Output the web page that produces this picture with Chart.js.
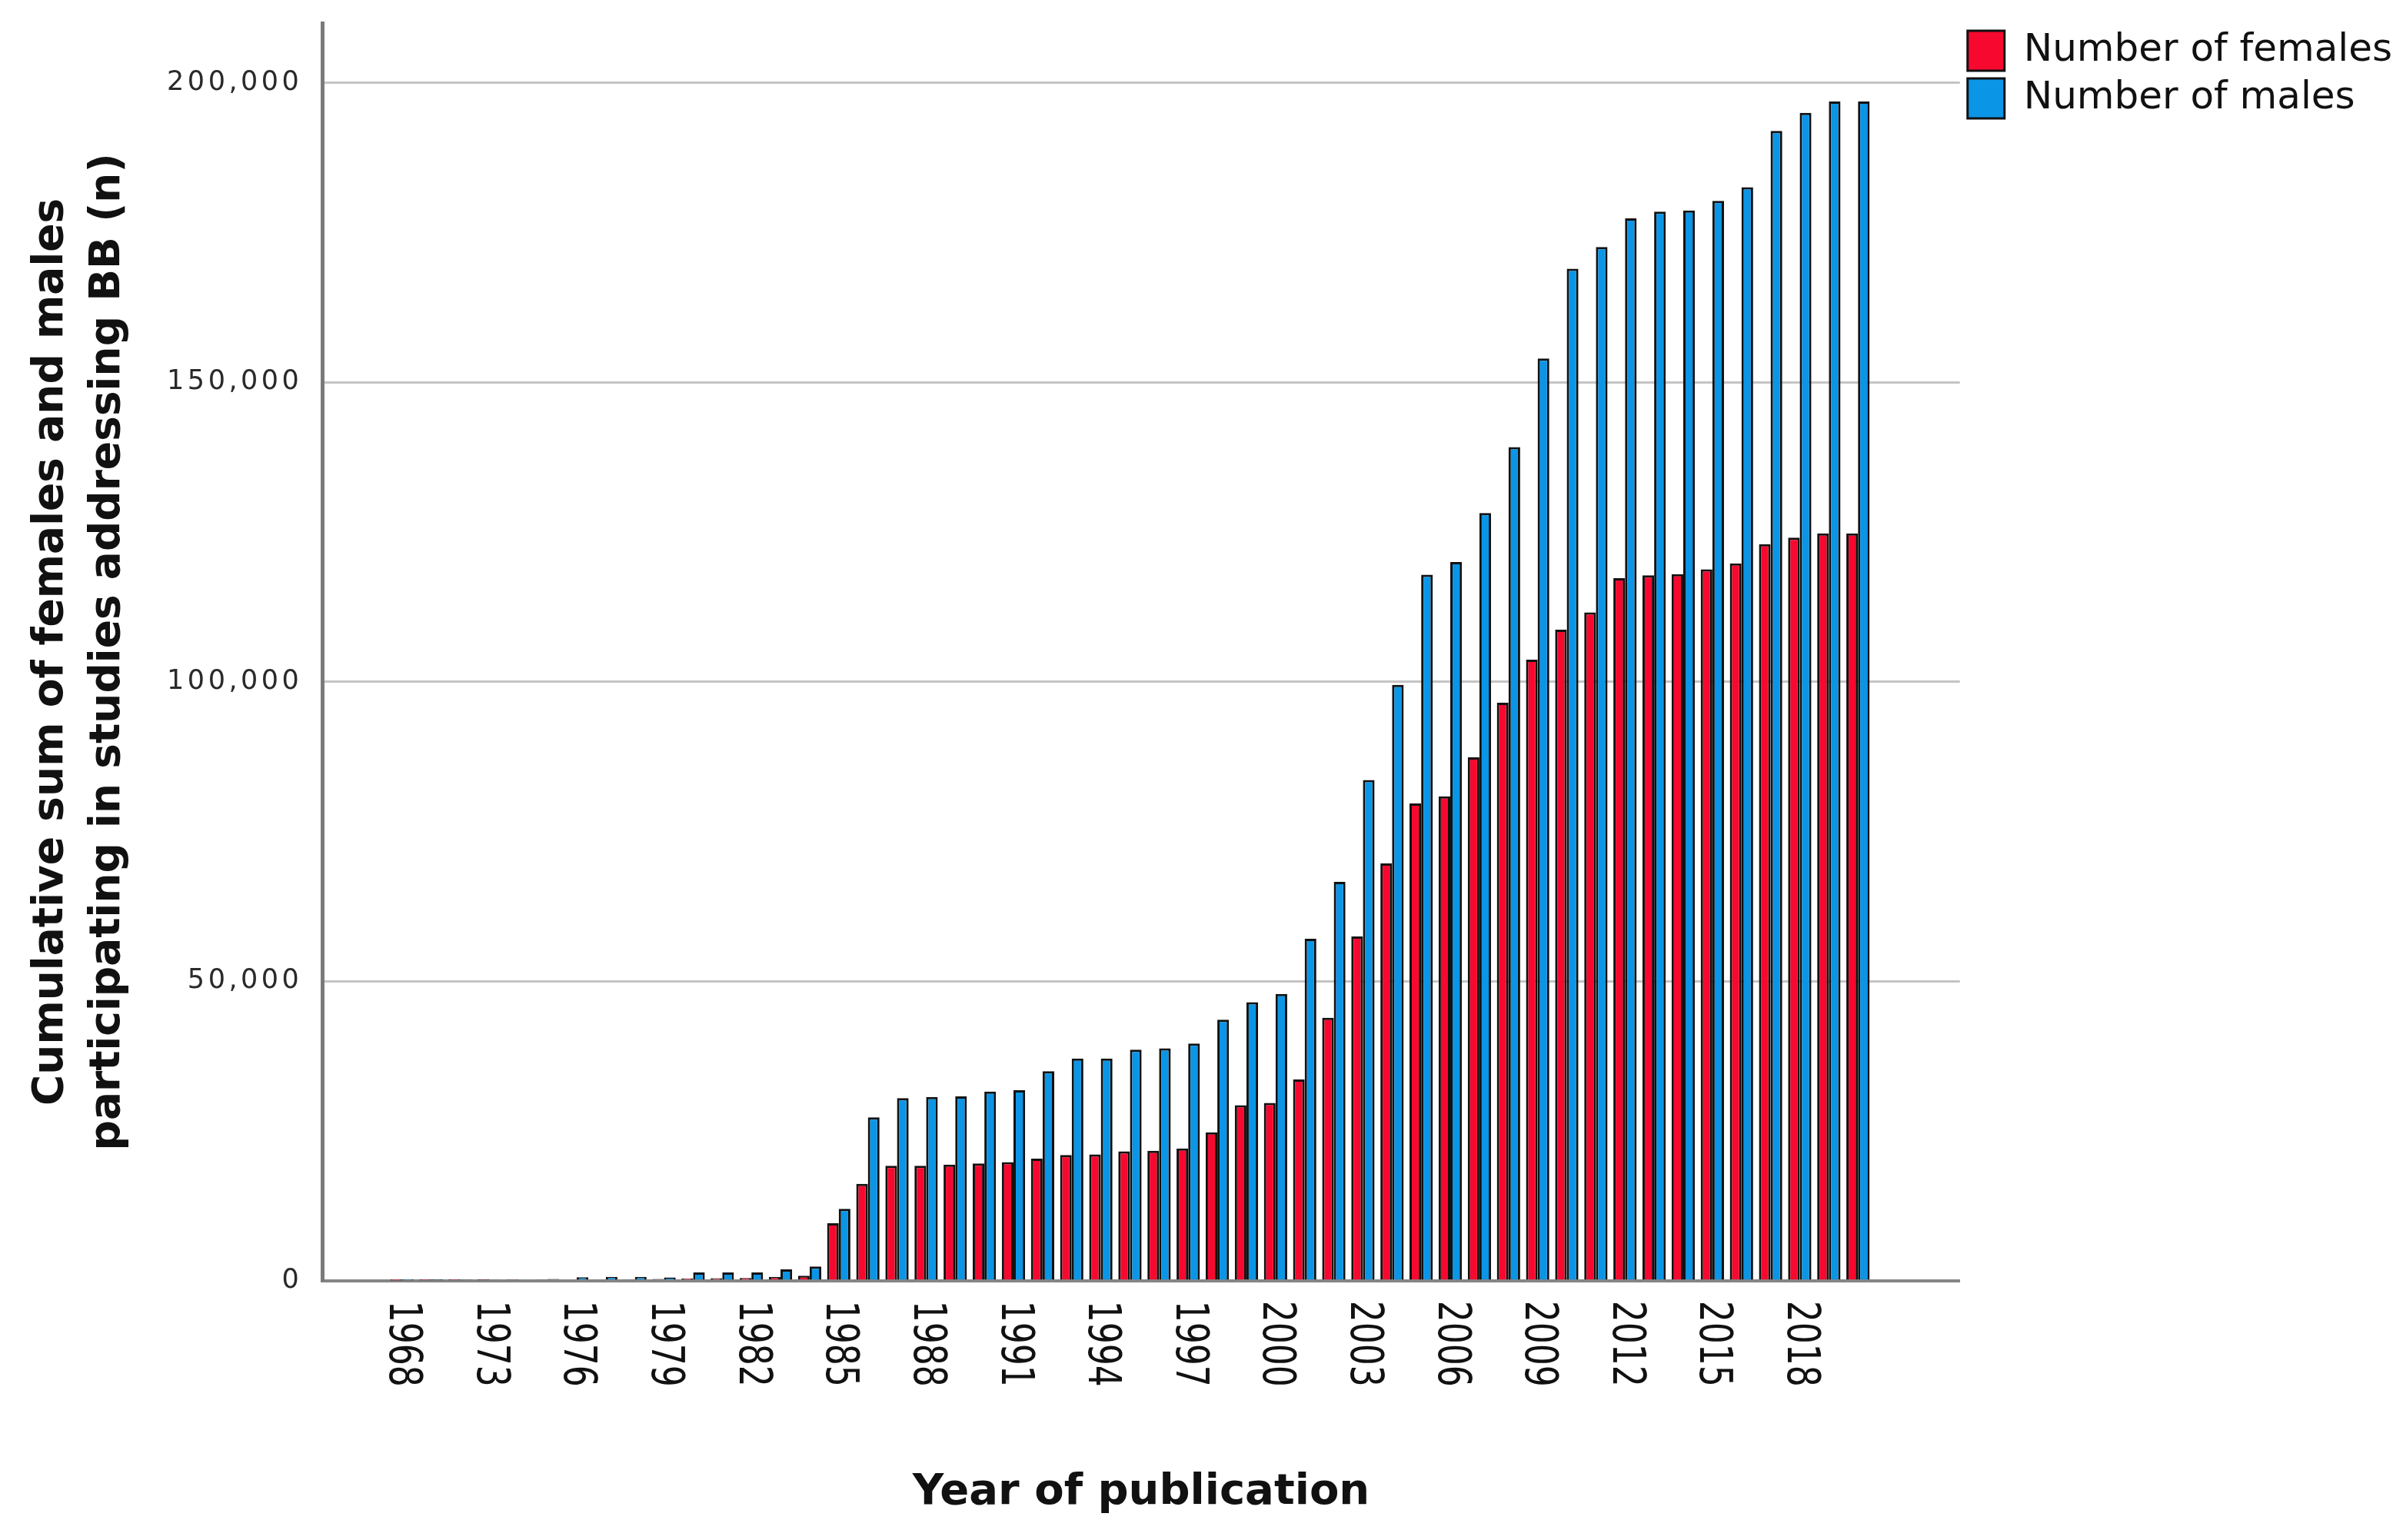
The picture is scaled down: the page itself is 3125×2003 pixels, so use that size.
<!DOCTYPE html>
<html>
<head>
<meta charset="utf-8">
<script src="https://cdn.jsdelivr.net/npm/chart.js@4.4.1/dist/chart.umd.min.js"></script>
<style>
  html,body{margin:0;padding:0;background:#fff;}
  #wrap{width:3125px;height:2003px;position:relative;}
</style>
</head>
<body>
<div id="wrap"><canvas id="chart"></canvas></div>
<script>
// categories (only every third one is labelled on the axis)
const years = ['1968','1970','1972','1973','1974','1975','1976','1977','1978','1979',
  '1980','1981','1982','1983','1984','1985','1986','1987','1988','1989',
  '1990','1991','1992','1993','1994','1995','1996','1997','1998','1999',
  '2000','2001','2002','2003','2004','2005','2006','2007','2008','2009',
  '2010','2011','2012','2013','2014','2015','2016','2017','2018','2019','2020'];

// cumulative counts
const females = [50,80,100,120,150,180,200,250,280,300,
  400,420,450,650,850,9600,16200,19200,19200,19400,
  19600,19800,20400,21000,21100,21600,21700,22100,24800,29300,
  29700,33600,43900,57500,69700,79700,80900,87400,96500,103700,
  108700,111600,117300,117800,118000,118800,119800,123000,124100,124800,124800];
const males = [80,120,150,180,200,300,600,650,650,550,
  1400,1400,1400,1900,2400,12000,27300,30500,30700,30800,
  31600,31800,35000,37100,37100,38600,38800,39600,43600,46500,
  47900,57100,66600,83600,99500,117900,120000,128200,139200,154000,
  169000,172600,177400,178500,178700,180300,182600,192000,195000,196900,196900];

const yTicks = [0,50000,100000,150000,200000];

const toPoints = arr => arr.map((v,i)=>({x:i, y:v}));

// draw the tick labels by hand: x labels read top-to-bottom, y labels are spaced out
const customLabels = {
  id:'customLabels',
  afterDraw(chart){
    const ctx = chart.ctx;
    const xs = chart.scales.x, ys = chart.scales.y;
    ctx.save();
    ctx.fillStyle = '#111';
    ctx.font = '44px "DejaVu Sans"';
    ctx.textAlign = 'left';
    ctx.textBaseline = 'middle';
    for(const t of xs.ticks){
      const px = xs.getPixelForValue(t.value);
      ctx.save();
      ctx.translate(px, xs.top + 26);
      ctx.rotate(Math.PI/2);
      ctx.scale(1, 1.35);
      ctx.fillText(years[t.value], 0, 0);
      ctx.restore();
    }
    ctx.font = '35px "DejaVu Sans"';
    ctx.fillStyle = '#2a2a2a';
    ctx.letterSpacing = '4.5px';
    ctx.textAlign = 'right';
    for(const t of ys.ticks){
      const py = ys.getPixelForValue(t.value);
      ctx.fillText(t.value.toLocaleString('en-US'), ys.right - 26, py);
    }
    ctx.restore();
  }
};

new Chart(document.getElementById('chart'), {
  type:'bar',
  data:{
    datasets:[
      {label:'Number of females', data:toPoints(females), backgroundColor:'#f7082f', borderColor:'#111', borderWidth:3,
        categoryPercentage:0.8, barPercentage:1},
      {label:'Number of males', data:toPoints(males), backgroundColor:'#0b95e6', borderColor:'#111', borderWidth:3,
        categoryPercentage:0.8, barPercentage:1}
    ]
  },
  options:{
    responsive:true, maintainAspectRatio:false, animation:false, devicePixelRatio:1,
    layout:{padding:{left:4, right:4, top:30, bottom:28}},
    plugins:{
      tooltip:{enabled:false},
      legend:{
        position:'right', align:'start',
        labels:{boxWidth:48, boxHeight:52, padding:10, color:'#111', font:{family:'DejaVu Sans', size:50}}
      }
    },
    scales:{
      x:{
        type:'linear', min:-2.73, max:53.5, offset:false,
        grid:{display:false},
        border:{display:true, color:'#858585', width:4},
        afterBuildTicks: s => { s.ticks = years.map((_,i)=>i).filter(i=>i%3===0).map(v=>({value:v})); },
        ticks:{color:'rgba(0,0,0,0)', font:{family:'DejaVu Sans', size:44}, minRotation:90, maxRotation:90, autoSkip:false, padding:26,
          callback: v => years[v] || ''},
        title:{display:true, text:'Year of publication', color:'#111', font:{family:'DejaVu Sans', size:56, weight:'bold'}, padding:{top:70, bottom:0}}
      },
      y:{
        min:0, max:210000,
        afterBuildTicks: s => { s.ticks = yTicks.map(v=>({value:v})); },
        afterFit: s => { s.paddingTop = 0; },
        grid:{color:'#c4c4c4', lineWidth:3, drawTicks:false},
        border:{display:true, color:'#7a7a7a', width:5},
        ticks:{color:'rgba(0,0,0,0)', font:{family:'DejaVu Sans', size:35}, padding:30,
          callback: v => v.toLocaleString('en-US')},
        title:{display:true, text:['Cumulative sum of females and males','participating in studies addressing BB (n)'],
          color:'#111', font:{family:'DejaVu Sans', size:55, weight:'bold', lineHeight:1.36}, padding:{top:25, bottom:36}}
      }
    }
  },
  plugins:[customLabels]
});
</script>
</body>
</html>
